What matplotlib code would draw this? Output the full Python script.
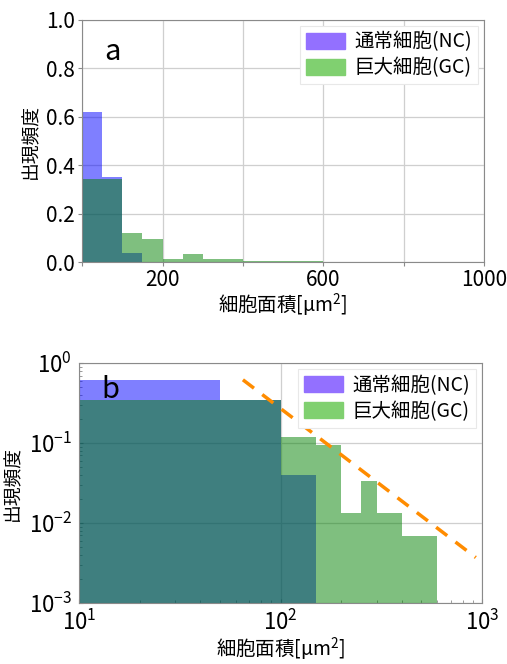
import numpy as np
import matplotlib
matplotlib.use("Agg")
import matplotlib.pyplot as plt
from matplotlib.patches import Patch

plt.rcParams["font.family"] = ["Noto Sans CJK JP", "DejaVu Sans"]
plt.rcParams["mathtext.default"] = "regular"
plt.rcParams["axes.unicode_minus"] = False

# histogram bins (cell area, um^2) and frequencies
nc_edges = [0, 50, 100, 150]
nc_freq = [0.62, 0.35, 0.04]
gc_edges = [0, 50, 100, 150, 200, 250, 300, 400, 600]
gc_freq = [0.345, 0.345, 0.12, 0.095, 0.0135, 0.034, 0.0135, 0.0068]

# power-law guide line in panel b
fit_x = [65, 930]
fit_y = [0.62, 0.0037]

labels = ["通常細胞(NC)", "巨大細胞(GC)"]
x_label = "細胞面積[μm$^2$]"
y_label = "出現頻度"

NC_COLOR = "blue"
GC_COLOR = "green"
SPINE = "#8a8a8a"
GRID = "#cfcfcf"


def draw_hist(ax, edges, freq, color):
    edges = np.asarray(edges, dtype=float)
    ax.bar(edges[:-1], freq, width=np.diff(edges), align="edge",
           color=color, alpha=0.5, linewidth=0)


def style_axes(ax):
    for s in ax.spines.values():
        s.set_color(SPINE)
    ax.grid(True, color=GRID, linewidth=0.9)
    ax.set_axisbelow(True)
    ax.set_xlabel(x_label, fontsize=14, labelpad=0)
    ax.set_ylabel(y_label, fontsize=13.5, labelpad=4)
    handles = [Patch(color="#9370ff"), Patch(color="#80d070")]
    leg = ax.legend(handles, labels, loc="upper right", fontsize=14,
                    fancybox=False, framealpha=1, edgecolor="#e8e8e8",
                    handlelength=2.0, handleheight=0.9, handletextpad=0.5,
                    labelspacing=0.25, borderaxespad=0.3, borderpad=0.3)
    leg.get_frame().set_linewidth(0.8)


fig = plt.figure(figsize=(5.07, 6.64), dpi=100)

# panel a: linear axes
ax1 = fig.add_axes([0.162, 0.605, 0.793, 0.365])
draw_hist(ax1, nc_edges, nc_freq, NC_COLOR)
draw_hist(ax1, gc_edges, gc_freq, GC_COLOR)
ax1.set_xlim(0, 1000)
ax1.set_ylim(0, 1.0)
ax1.set_xticks([0, 200, 400, 600, 800, 1000])
ax1.set_xticklabels(["", "200", "", "600", "", "1000"])
ax1.set_yticks(np.arange(0, 1.01, 0.2))
ax1.set_yticklabels([f"{v:.1f}" for v in np.arange(0, 1.01, 0.2)])
ax1.tick_params(labelsize=15, color=SPINE, length=3, pad=2)
ax1.text(0.055, 0.93, "a", transform=ax1.transAxes, fontsize=21,
         va="top", ha="left")
style_axes(ax1)

# panel b: log-log axes
ax2 = fig.add_axes([0.156, 0.092, 0.795, 0.361])
ax2.set_xscale("log")
ax2.set_yscale("log")
draw_hist(ax2, nc_edges, nc_freq, NC_COLOR)
draw_hist(ax2, gc_edges, gc_freq, GC_COLOR)
ax2.plot(fit_x, fit_y, color="#ff8c00", linestyle=(0, (4, 3)), linewidth=2.5)
ax2.set_xlim(10, 1000)
ax2.set_ylim(1e-3, 1)
ax2.tick_params(which="both", direction="in", color=SPINE)
ax2.tick_params(which="major", labelsize=16, length=3, pad=5)
ax2.tick_params(which="minor", length=2)
ax2.grid(True, which="major")
ax2.text(0.055, 0.95, "b", transform=ax2.transAxes, fontsize=21,
         va="top", ha="left")
style_axes(ax2)

fig.savefig("out.png", dpi=100)
